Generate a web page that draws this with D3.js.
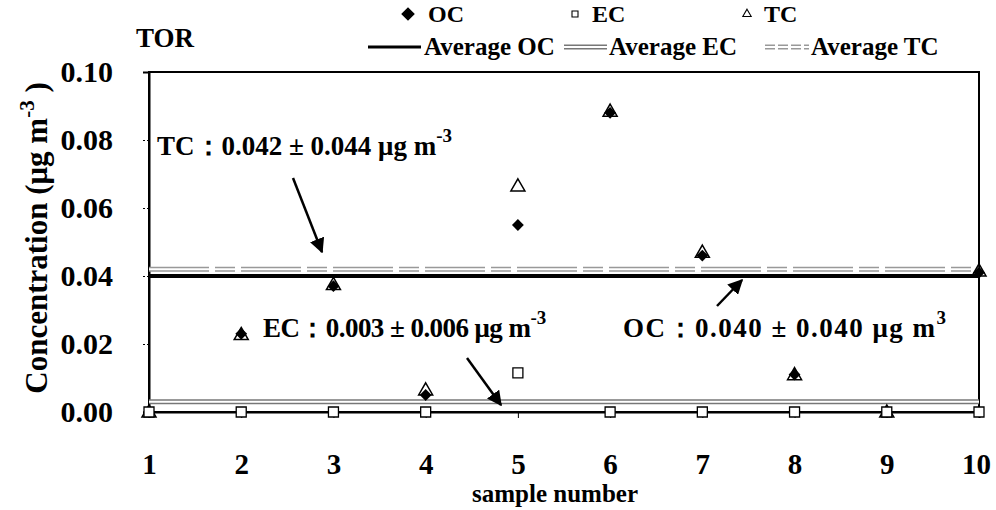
<!DOCTYPE html>
<html>
<head>
<meta charset="utf-8">
<script src="https://cdn.jsdelivr.net/npm/d3@7"></script>
<style>
  body { margin: 0; background: #fff; }
  svg text { font-family: "Liberation Serif", "DejaVu Serif", serif; font-weight: bold; fill: #000; }
</style>
</head>
<body>
<div class="chart-box"></div>
<script>
let width = 996;
let height = 510;

// data
let samples = [1, 2, 3, 4, 5, 6, 7, 8, 9, 10];
let ocValues = [0, 0.023, 0.037, 0.005, 0.055, 0.088, 0.046, 0.011, 0, 0.041];
let ecValues = [0, 0, 0, 0, 0.0115, 0, 0, 0, 0, 0];
let tcValues = [0, 0.0228, 0.0375, 0.0065, 0.0665, 0.0885, 0.047, 0.011, 0, 0.0415];
let averages = { oc: 0.040, ec: 0.003, tc: 0.042 };
let yTicks = [0, 0.02, 0.04, 0.06, 0.08, 0.10];

let svg = d3.select('.chart-box')
  .append('svg')
  .attr('width', width)
  .attr('height', height);

let x = d3.scaleLinear().domain([1, 10]).range([149, 979]);
let y = d3.scaleLinear().domain([0, 0.10]).range([412, 72]);

// frame
svg.append("rect")
  .attr("x", x(1)).attr("y", y(0.10))
  .attr("width", x(10) - x(1)).attr("height", y(0) - y(0.10))
  .attr("fill", "none").attr("stroke", "#000").attr("stroke-width", 2);

// axes
let yAxis = svg.append("g")
  .attr("transform", `translate(${x(1)},0)`)
  .call(d3.axisLeft(y).tickValues(yTicks).tickSize(6).tickPadding(30).tickFormat(d3.format(".2f")));
yAxis.select(".domain").attr("stroke-width", 2);
yAxis.selectAll("text").style("font-size", "30px");
yAxis.selectAll(".tick line").attr("stroke-dasharray", "2,2");

let xAxis = svg.append("g")
  .attr("transform", `translate(0,${y(0)})`)
  .call(d3.axisBottom(x).tickValues(samples).tickSize(6).tickPadding(35).tickFormat(d3.format("d")));
xAxis.select(".domain").attr("stroke-width", 2);
xAxis.selectAll("text").style("font-size", "29px");
xAxis.selectAll(".tick").filter(d => d === 10).select("text").attr("dx", -3);
svg.selectAll("g").attr("font-family", null);

// average lines
function hollowLine(g, val, outer, dash) {
  g.append("line")
    .attr("x1", x(1)).attr("x2", x(10)).attr("y1", y(val)).attr("y2", y(val))
    .attr("stroke", outer).attr("stroke-width", 5)
    .attr("stroke-dasharray", dash);
  g.append("line")
    .attr("x1", x(1)).attr("x2", x(10)).attr("y1", y(val)).attr("y2", y(val))
    .attr("stroke", "#fff").attr("stroke-width", 2);
}
let avgG = svg.append("g");
hollowLine(avgG, averages.tc, "#999", "60,6,20,6");
hollowLine(avgG, averages.ec, "#777", null);
avgG.append("line")
  .attr("x1", x(1)).attr("x2", x(10)).attr("y1", y(averages.oc)).attr("y2", y(averages.oc))
  .attr("stroke", "#000").attr("stroke-width", 4);

// markers
let diamond = d3.symbol().type(d3.symbolSquare).size(70);
let square = d3.symbol().type(d3.symbolSquare).size(100);
let triangle = d3.symbol().type(d3.symbolTriangle).size(85);

svg.append("g").selectAll("path")
  .data(samples)
  .enter().append("path")
  .attr("d", diamond)
  .attr("transform", (d, i) => `translate(${x(d)},${y(ocValues[i])}) rotate(45)`)
  .attr("fill", "#000");

svg.append("g").selectAll("path")
  .data(samples)
  .enter().append("path")
  .attr("d", triangle)
  .attr("transform", (d, i) => `translate(${x(d)},${y(tcValues[i]) + 1})`)
  .attr("fill", "none").attr("stroke", "#000").attr("stroke-width", 1.5);

svg.append("g").selectAll("path")
  .data(samples)
  .enter().append("path")
  .attr("d", square)
  .attr("transform", (d, i) => `translate(${x(d)},${y(ecValues[i])})`)
  .attr("fill", "#fff").attr("stroke", "#000").attr("stroke-width", 1.3);

// annotations
function label(px, py, head, unitSup, len) {
  let t = svg.append("text").attr("x", px).attr("y", py).style("font-size", "27px");
  let main = t.append("tspan").text(head + " μg m");
  if (len) main.attr("textLength", len).attr("lengthAdjust", "spacing");
  t.append("tspan").attr("dy", -13).style("font-size", "19px").text(unitSup);
}
label(157, 155, "TC：0.042 ± 0.044", "-3");
label(263, 337, "EC：0.003 ± 0.006", "-3", 268);
label(623, 337, "OC：0.040 ± 0.040", "3", 312);

svg.append("defs").append("marker")
  .attr("id", "head").attr("viewBox", "0 0 10 10")
  .attr("refX", 9).attr("refY", 5)
  .attr("markerWidth", 6).attr("markerHeight", 6)
  .attr("orient", "auto")
  .append("path").attr("d", "M0,0L10,5L0,10Z").attr("fill", "#000");

let arrows = [[293, 178, 322, 252], [467, 358, 501, 405], [717, 306, 742, 280]];
svg.append("g").selectAll("line")
  .data(arrows)
  .enter().append("line")
  .attr("x1", d => d[0]).attr("y1", d => d[1])
  .attr("x2", d => d[2]).attr("y2", d => d[3])
  .attr("stroke", "#000").attr("stroke-width", 2.5)
  .attr("marker-end", "url(#head)");

// title
svg.append("text").attr("x", 136).attr("y", 47).style("font-size", "27px").text("TOR");

// axis titles
svg.append("text")
  .attr("transform", "translate(47,238) rotate(-90)")
  .attr("text-anchor", "middle")
  .style("font-size", "31px")
  .call(t => {
    t.append("tspan").text("Concentration (μg m");
    t.append("tspan").attr("dy", -13).style("font-size", "21px").text("-3");
    t.append("tspan").attr("dy", 13).text(" )");
  });
svg.append("text")
  .attr("x", 555).attr("y", 502)
  .attr("text-anchor", "middle")
  .style("font-size", "25px")
  .text("sample number");

// legend
let legendMarks = [
  { sym: diamond, fill: "#000", cx: 408, label: "OC", lx: 428, rot: 45, k: 0.95 },
  { sym: square, fill: "#fff", cx: 575, label: "EC", lx: 592, rot: 0, k: 0.6 },
  { sym: triangle, fill: "#fff", cx: 747, label: "TC", lx: 764, rot: 0, k: 0.6 }
];
let lg = svg.append("g");
legendMarks.forEach(m => {
  lg.append("path").attr("d", m.sym)
    .attr("transform", `translate(${m.cx},14) rotate(${m.rot}) scale(${m.k})`)
    .attr("fill", m.fill).attr("stroke", "#000").attr("stroke-width", 1.8);
  lg.append("text").attr("x", m.lx).attr("y", 22).style("font-size", "24px").text(m.label);
});
lg.append("line").attr("x1", 368).attr("x2", 421).attr("y1", 47).attr("y2", 47)
  .attr("stroke", "#000").attr("stroke-width", 3);
lg.append("text").attr("x", 424).attr("y", 55).style("font-size", "25px").text("Average OC");
lg.append("line").attr("x1", 564).attr("x2", 607).attr("y1", 47).attr("y2", 47)
  .attr("stroke", "#777").attr("stroke-width", 5);
lg.append("line").attr("x1", 564).attr("x2", 607).attr("y1", 47).attr("y2", 47)
  .attr("stroke", "#fff").attr("stroke-width", 2);
lg.append("text").attr("x", 609).attr("y", 55).style("font-size", "25px").text("Average EC");
lg.append("line").attr("x1", 765).attr("x2", 809).attr("y1", 47).attr("y2", 47)
  .attr("stroke", "#999").attr("stroke-width", 5).attr("stroke-dasharray", "10,3");
lg.append("line").attr("x1", 765).attr("x2", 809).attr("y1", 47).attr("y2", 47)
  .attr("stroke", "#fff").attr("stroke-width", 2);
lg.append("text").attr("x", 811).attr("y", 55).style("font-size", "25px").text("Average TC");
</script>
</body>
</html>
